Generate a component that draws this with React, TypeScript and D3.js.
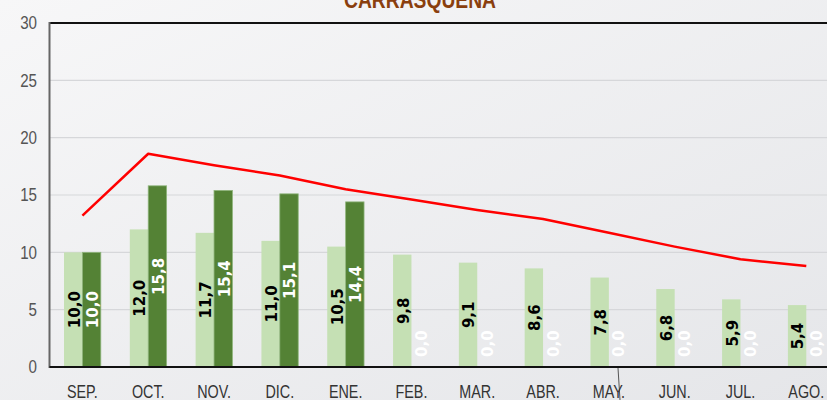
import React, { useEffect } from "react";
import * as d3 from "d3";

const months = ["SEP.", "OCT.", "NOV.", "DIC.", "ENE.", "FEB.", "MAR.", "ABR.", "MAY.", "JUN.", "JUL.", "AGO."];
const seriesLight = [10.0, 12.0, 11.7, 11.0, 10.5, 9.8, 9.1, 8.6, 7.8, 6.8, 5.9, 5.4];
const seriesDark = [10.0, 15.8, 15.4, 15.1, 14.4, 0, 0, 0, 0, 0, 0, 0];
const seriesLine = [13.2, 18.6, 17.6, 16.7, 15.5, 14.6, 13.7, 12.9, 11.7, 10.5, 9.4, 8.8];
const yTicks = [0, 5, 10, 15, 20, 25, 30];
const title = "CARRASQUEÑA";

const W = 827;
const H = 400;
const left = 49.5;
const right = 839.2;
const top = 23;
const bottom = 367;
const FONT = "'Liberation Sans', Arial, sans-serif";
const LABEL_FONT = "'DejaVu Sans', Verdana, sans-serif";
const NARROW = 0.82;

const fmt = (v: number) => v.toFixed(1).replace(".", ",");

export default function App() {
  useEffect(() => {
    document.body.style.margin = "0";
  }, []);

  const x = d3.scaleBand<string>().domain(months).range([left, right]).paddingInner(0).paddingOuter(0);
  const y = d3.scaleLinear().domain([0, 30]).range([bottom, top]);
  const barW = 18.4;
  const line = d3
    .line<number>()
    .x((_, i) => (x(months[i]) as number) + x.bandwidth() / 2)
    .y((d) => y(d))
    .curve(d3.curveLinear);

  const labelFont = 15;
  const estLen = (s: string) => {
    let l = 0;
    for (const c of s) l += c === "," ? 0.38 : 0.696;
    return l * labelFont;
  };

  const barLabel = (v: number, cx: number, color: string, key: string) => {
    const s = fmt(v);
    const len = estLen(s);
    const mid = (y(v) + y(0)) / 2;
    const cy = Math.min(mid, y(0) - 10 - len / 2);
    return (
      <text
        key={key}
        transform={`translate(${cx},${cy}) rotate(-90)`}
        textAnchor="middle"
        dy="0.42em"
        fontFamily={LABEL_FONT}
        fontWeight="bold"
        fontSize={labelFont}
        fill={color}
      >
        {s}
      </text>
    );
  };

  return (
    <svg width={W} height={H} style={{ position: "absolute", left: 0, top: 0, display: "block" }}>
      <defs>
        <linearGradient id="bg" x1="0" y1="0" x2="1" y2="1">
          <stop offset="0%" stopColor="#f7f7f8" />
          <stop offset="100%" stopColor="#e5e6e9" />
        </linearGradient>
      </defs>
      <rect x={0} y={0} width={W} height={H} fill="url(#bg)" />
      <text
        transform={`translate(420,8) scale(${NARROW},1)`}
        textAnchor="middle"
        fontFamily={FONT}
        fontWeight="bold"
        fontSize={23.5}
        fill="#8a3f0e"
      >
        {title}
      </text>
      {yTicks.filter((t) => t > 0 && t < 30).map((t) => (
        <line key={"g" + t} x1={left} x2={W} y1={y(t)} y2={y(t)} stroke="#d6d7da" strokeWidth={1.2} />
      ))}
      {yTicks.map((t) => (
        <text
          key={"yt" + t}
          transform={`translate(37,${y(t)}) scale(${NARROW},1)`}
          dy="0.35em"
          textAnchor="end"
          fontFamily={FONT}
          fontSize={18.5}
          fill="#555"
        >
          {t}
        </text>
      ))}
      {months.map((m, i) => {
        const c = (x(m) as number) + x.bandwidth() / 2;
        return (
          <g key={"b" + m}>
            <rect x={c - barW} y={y(seriesLight[i])} width={barW} height={y(0) - y(seriesLight[i])} fill="#c5e0b4" />
            {seriesDark[i] > 0 && (
              <rect
                x={c}
                y={y(seriesDark[i])}
                width={barW}
                height={y(0) - y(seriesDark[i])}
                fill="#548235"
                stroke="#8fb57c"
                strokeWidth={0.8}
              />
            )}
          </g>
        );
      })}
      <path d={line(seriesLine) || ""} fill="none" stroke="#ff0000" strokeWidth={2.5} strokeLinejoin="round" />
      {months.map((m, i) => {
        const c = (x(m) as number) + x.bandwidth() / 2;
        return (
          <g key={"l" + m}>
            {barLabel(seriesLight[i], c - barW / 2, "#000", "ll" + m)}
            {barLabel(seriesDark[i], c + barW / 2, "#fff", "ld" + m)}
          </g>
        );
      })}
      <line x1={left} x2={W} y1={top} y2={top} stroke="#111" strokeWidth={2} />
      <line x1={left} x2={left} y1={top - 1} y2={bottom + 1} stroke="#666" strokeWidth={2} />
      <line x1={left} x2={W} y1={bottom} y2={bottom} stroke="#111" strokeWidth={2} />
      <line x1={618} x2={620} y1={368} y2={400} stroke="#555" strokeWidth={1} />
      {months.map((m) => (
        <text
          key={"xl" + m}
          transform={`translate(${(x(m) as number) + x.bandwidth() / 2},398) scale(${NARROW},1)`}
          textAnchor="middle"
          fontFamily={FONT}
          fontSize={17.5}
          fill="#333"
        >
          {m}
        </text>
      ))}
    </svg>
  );
}
